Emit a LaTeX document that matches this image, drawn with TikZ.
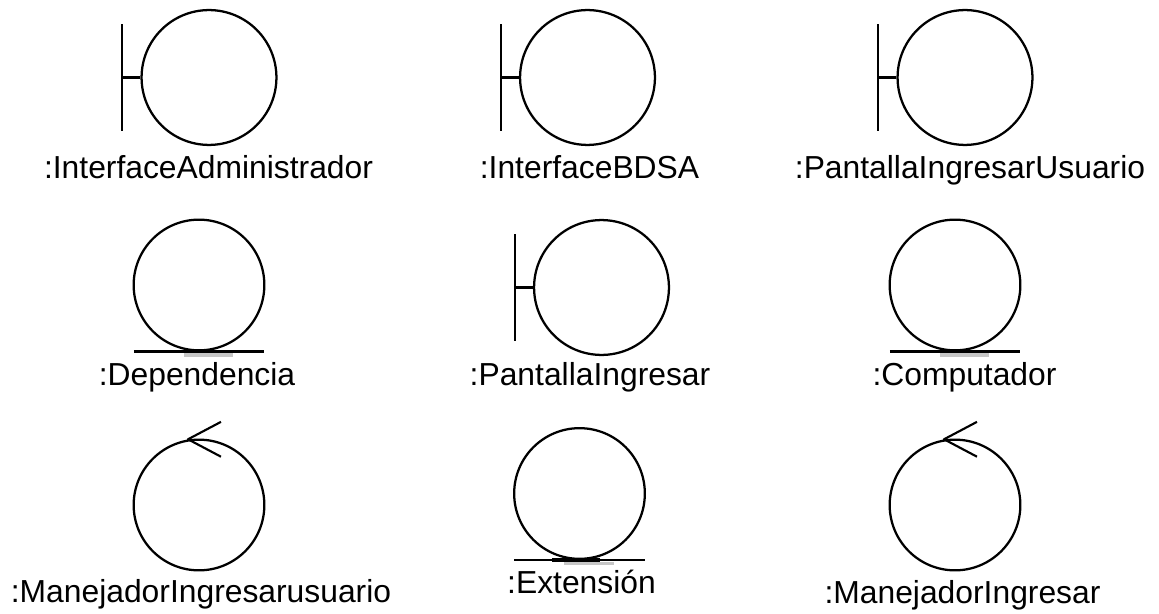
\documentclass[tikz,border=0pt]{standalone}
\usepackage{fontspec}
\setmainfont{Liberation Sans}
\tikzset{
  px/.style={x=0.0264cm,y=-0.0264cm},
  circ/.style={draw,circle,line width=1.7pt,minimum size=3.45cm,inner sep=0pt},
  bigcirc/.style={circ,minimum size=3.56cm},
  lbl/.style={font=\fontsize{23.9}{28}\selectfont,inner sep=0pt,anchor=base},
  barline/.style={line width=1.6pt,line join=round},
  shade/.style={line width=2.6pt,gray!45},
  dark/.style={line width=2.8pt}
}
\begin{document}
\begin{tikzpicture}[px]
\useasboundingbox (0,0) rectangle (1159,614);
% interface
\node[bigcirc] (ia) at (209,77.5) {};
\node[bigcirc] (ib) at (587.5,77.5) {};
\node[bigcirc] (ip) at (965,77.5) {};
\node[bigcirc] (ig) at (601.5,287.5) {};
\foreach \n in {ia,ib,ip,ig}{
  \coordinate (\n b) at ([xshift=-0.48cm]\n.west);
  \draw[barline] (\n.west)--(\n b);
  \draw[barline] ([yshift=1.41cm]\n b)--([yshift=-1.41cm]\n b);
}
% entity
\node[circ] (ed) at (199,285) {};
\node[circ] (ec) at (955,285) {};
\node[circ] (ee) at (579.5,493.5) {};
\foreach \n in {ed,ec,ee}{
  \draw[shade] ([xshift=-.4cm,yshift=-.09cm]\n.south)--([xshift=.9cm,yshift=-.09cm]\n.south);
  \draw[barline] ([xshift=-1.72cm]\n.south)--([xshift=1.72cm]\n.south);
  \draw[dark] ([xshift=-.72cm]\n.south)--([xshift=.55cm]\n.south);
}
% control
\node[circ] (cm) at (199,505) {};
\node[circ] (cn) at (955,505) {};
\foreach \n in {cm,cn}{
  \coordinate (\n t) at ([xshift=-.29cm,yshift=-.02cm]\n.north);
  \draw[barline] ([xshift=.87cm,yshift=.46cm]\n t)--(\n t)--([xshift=.87cm,yshift=-.46cm]\n t);
}
\node[lbl] (tia) at (208.5,179) {:InterfaceAdministrador};
\node[lbl] (tib) at (589.5,179) {:InterfaceBDSA};
\node[lbl] (tip) at (970,179) {:PantallaIngresarUsuario};
\node[lbl] (ted) at (197,385) {:Dependencia};
\node[lbl] (tig) at (590,385) {:PantallaIngresar};
\node[lbl] (tec) at (964.5,385) {:Computador};
\node[lbl] (tcm) at (201,602) {:ManejadorIngresarusuario};
\node[lbl] (tee) at (581.5,593) {:Extensión};
\node[lbl] (tcn) at (962.5,603) {:ManejadorIngresar};
\end{tikzpicture}
\end{document}
